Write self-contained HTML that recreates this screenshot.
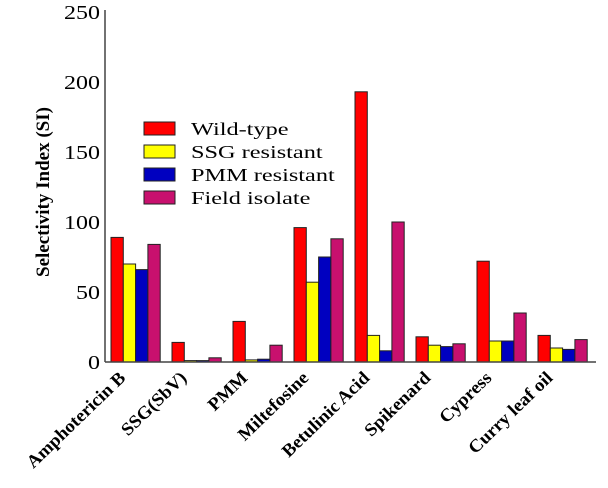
<!DOCTYPE html>
<html><head><meta charset="utf-8"><style>
body{margin:0;background:#fff;}
svg{display:block;}
text{font-family:"Liberation Serif","Times New Roman",serif;}
</style></head><body>
<svg width="608" height="488" viewBox="0 0 608 488">
<g id="bars"></g>
<g id="axes"></g>
<g id="legend"></g>
<text font-family="Liberation Serif, serif" transform="translate(49,192) rotate(-90)" text-anchor="middle" font-weight="bold" font-size="19">Selectivity Index (SI)</text>
</svg>
<script>
const categories=["Amphotericin B","SSG(SbV)","PMM","Miltefosine","Betulinic Acid","Spikenard","Cypress","Curry leaf oil"];
const seriesNames=["Wild-type","SSG resistant","PMM resistant","Field isolate"];
const wildType=[89,14,29,96,193,18,72,19];
const ssgResistant=[70,1,1.5,57,19,12,15,10];
const pmmResistant=[66,1,2,75,8,11,15,9];
const fieldIsolate=[84,3,12,88,100,13,35,16];
const yTicks=[0,50,100,150,200,250];

const colors=["#ff0000","#ffff00","#0000c0","#c8106e"];
const series=[wildType,ssgResistant,pmmResistant,fieldIsolate];
const NS="http://www.w3.org/2000/svg";
const FONT="Liberation Serif, serif";
const x0=105,y0=362,yTop=12,yMax=250;
const yScale=v=>y0-(v/yMax)*(y0-yTop);
const groupStart=i=>111+i*61;
const bw=12.3;
function mk(tag,attrs,parent){const e=document.createElementNS(NS,tag);for(const k in attrs)e.setAttribute(k,attrs[k]);parent.appendChild(e);return e;}
const bars=document.getElementById('bars'),axes=document.getElementById('axes'),legend=document.getElementById('legend');
categories.forEach((c,i)=>{
  series.forEach((s,j)=>{
    const y=yScale(s[i]);
    const r=mk('rect',{x:groupStart(i)+j*bw,y:y,width:bw,height:y0-y,fill:colors[j],stroke:"#222","stroke-width":1},bars);
    
    
  });
  const cx=groupStart(i)+2*bw;
  const t=mk('text',{transform:`translate(${cx-9},${y0+17}) rotate(-44) scale(1.05,1)`,"text-anchor":"end","font-weight":"bold","font-size":"18","font-family":FONT},axes);
  t.textContent=c;
  
  
});
const ya=mk('line',{x1:x0,y1:yTop-2,x2:x0,y2:y0,stroke:"#444","stroke-width":1.5},axes);


const xa=mk('line',{x1:x0,y1:y0,x2:596,y2:y0,stroke:"#444","stroke-width":1.5},axes);


yTicks.forEach(v=>{
  const t=mk('text',{transform:`translate(100,${yScale(v)+7}) scale(1.2,1)`,"text-anchor":"end","font-size":"20","font-family":FONT},axes);
  t.textContent=v;
  
  
});
seriesNames.forEach((n,j)=>{
  const y=122+j*23;
  const r=mk('rect',{x:144,y:y,width:31,height:13,fill:colors[j],stroke:"#222","stroke-width":1},legend);
  
  
  const t=mk('text',{transform:`translate(191,${y+13}) scale(1.35,1)`,"font-size":"18","font-family":FONT},legend);
  t.textContent=n;
  
  
});
</script>
</body></html>
